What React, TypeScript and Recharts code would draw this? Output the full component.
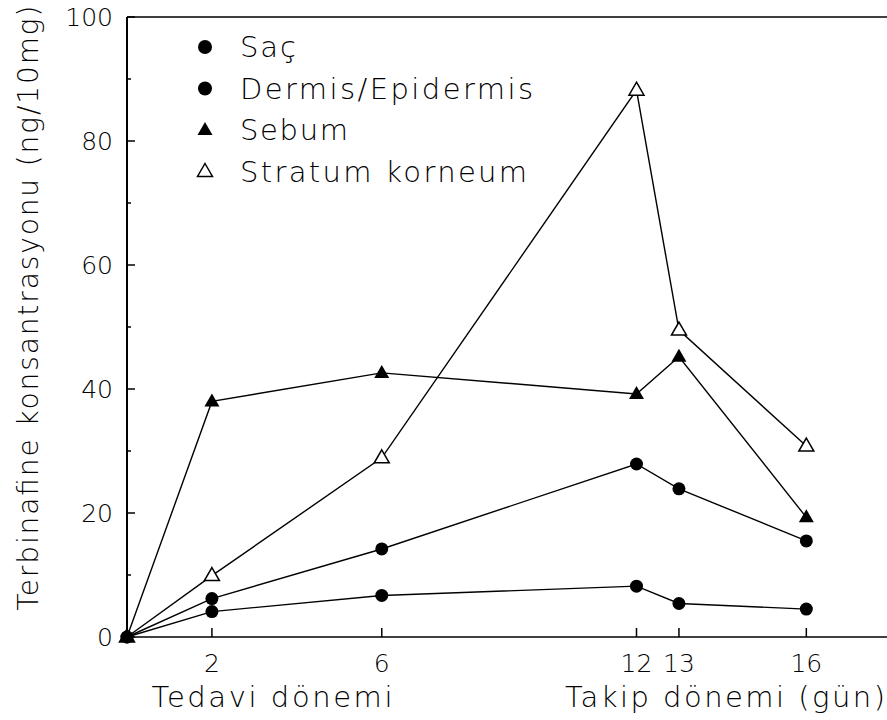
import React from "react";
import { LineChart, Line, XAxis, YAxis, Legend } from "recharts";

const days = [0, 2, 6, 12, 13, 16];
const sac = [0, 4.1, 6.7, 8.2, 5.4, 4.5];
const dermis = [0, 6.2, 14.2, 27.9, 23.9, 15.5];
const sebum = [0, 38, 42.6, 39.2, 45.2, 19.3];
const stratum = [0, 9.9, 28.9, 88.2, 49.5, 30.8];

const xTicks = [2, 6, 12, 13, 16];
const yTicks = [0, 10, 20, 30, 40, 50, 60, 70, 80, 90, 100];

const seriesNames = ["Saç", "Dermis/Epidermis", "Sebum", "Stratum korneum"];
const seriesKeys = ["sac", "dermis", "sebum", "stratum"];
const seriesShapes = ["circle", "circle", "triangle", "openTriangle"];
const legendWidths = [56, 293, 108, 287];
// draw order: open triangles first so filled markers sit on top at the origin
const drawOrder = [3, 2, 1, 0];

const yTitle = "Terbinafine konsantrasyonu (ng/10mg)";
const xTitleLeft = "Tedavi dönemi";
const xTitleRight = "Takip dönemi (gün)";

const data = days.map((d, i) => ({
  day: d,
  sac: sac[i],
  dermis: dermis[i],
  sebum: sebum[i],
  stratum: stratum[i],
}));

const FONT = "'DejaVu Sans', sans-serif";

function Marker({ cx, cy, shape, r = 6.5 }: { cx: number; cy: number; shape: string; r?: number }) {
  if (shape === "circle") return <circle cx={cx} cy={cy} r={r} fill="#000" />;
  const d = `M${cx},${cy - 8} L${cx + 7.5},${cy + 5} L${cx - 7.5},${cy + 5} Z`;
  if (shape === "triangle") return <path d={d} fill="#000" />;
  return <path d={d} fill="#fff" stroke="#000" strokeWidth={1.5} />;
}

const YTick = (p: any) => {
  const major = p.payload.value % 20 === 0;
  return (
    <g>
      <line x1={p.x} x2={p.x + (major ? 8 : 4)} y1={p.y} y2={p.y} stroke="#000" strokeWidth={1.5} />
      {major && (
        <text x={p.x - 14} y={p.y} textAnchor="end" dominantBaseline="central" fontFamily={FONT} fontSize={25} fontWeight={200} fill="#000">
          {p.payload.value}
        </text>
      )}
    </g>
  );
};

const XTick = (p: any) => (
  <g>
    <line x1={p.x} x2={p.x} y1={p.y} y2={p.y - 9} stroke="#000" strokeWidth={1.5} />
    <text x={p.x} y={p.y + 26} textAnchor="middle" dominantBaseline="central" fontFamily={FONT} fontSize={25} fontWeight={200} fill="#000">
      {p.payload.value}
    </text>
  </g>
);

const LegendBox = () => (
  <svg width={380} height={175}>
    {seriesNames.map((n, i) => (
      <g key={n}>
        <Marker cx={15} cy={22 + i * 41.5} shape={seriesShapes[i]} r={7} />
        <text x={50} y={22 + i * 41.5} dominantBaseline="central" fontFamily={FONT} fontSize={29} fontWeight={200} textLength={legendWidths[i]} lengthAdjust="spacing" fill="#000">
          {n}
        </text>
      </g>
    ))}
  </svg>
);

export default function App() {
  return (
    <div style={{ width: 887, height: 720 }}>
      <style>{"body{margin:0}"}</style>
      <LineChart width={887} height={720} data={data} margin={{ top: 16, right: 0, bottom: 82, left: 0 }}>
        <XAxis
          dataKey="day"
          type="number"
          domain={[0, 17.9]}
          ticks={xTicks}
          height={1}
          stroke="#000"
          tickSize={0}
          tickMargin={0}
          tickLine={false}
          tick={<XTick />}
          axisLine={{ stroke: "#000", strokeWidth: 1.5 }}
          label={{
            content: (lp: any) => {
              const vb = lp.viewBox;
              return (
                <g fontFamily={FONT} fontSize={29} fontWeight={200} fill="#000">
                  <text x={272} y={vb.y + 70} textAnchor="middle" textLength={241} lengthAdjust="spacing">{xTitleLeft}</text>
                  <text x={725} y={vb.y + 70} textAnchor="middle" textLength={320} lengthAdjust="spacing">{xTitleRight}</text>
                </g>
              );
            },
          }}
        />
        <XAxis
          xAxisId="top"
          orientation="top"
          dataKey="day"
          type="number"
          domain={[0, 17.9]}
          height={1}
          stroke="#000"
          tick={false}
          tickLine={false}
          axisLine={{ stroke: "#000", strokeWidth: 1.5 }}
        />
        <YAxis
          type="number"
          domain={[0, 100]}
          ticks={yTicks}
          width={127}
          stroke="#000"
          tickSize={0}
          tickMargin={0}
          tickLine={false}
          tick={<YTick />}
          axisLine={{ stroke: "#000", strokeWidth: 2 }}
          label={{
            content: (lp: any) => {
              const vb = lp.viewBox;
              const cy = vb.y + vb.height / 2 - 19;
              return (
                <text x={28} y={cy} transform={`rotate(-90 28 ${cy})`} textAnchor="middle" dominantBaseline="central" fontFamily={FONT} fontSize={28} fontWeight={200} textLength={605} lengthAdjust="spacing" fill="#000">
                  {yTitle}
                </text>
              );
            },
          }}
        />
        <Legend layout="vertical" align="center" verticalAlign="middle" content={<LegendBox />} wrapperStyle={{ left: 190, top: 25, width: 380, height: 175 }} />
        {drawOrder.map((i) => (
          <Line
            key={seriesKeys[i]}
            dataKey={seriesKeys[i]}
            name={seriesNames[i]}
            stroke="#000"
            strokeWidth={1.4}
            isAnimationActive={false}
            dot={(p: any) => <Marker key={`${seriesKeys[i]}-${p.index}`} cx={p.cx} cy={p.cy} shape={seriesShapes[i]} />}
            activeDot={false}
          />
        ))}
      </LineChart>
    </div>
  );
}
